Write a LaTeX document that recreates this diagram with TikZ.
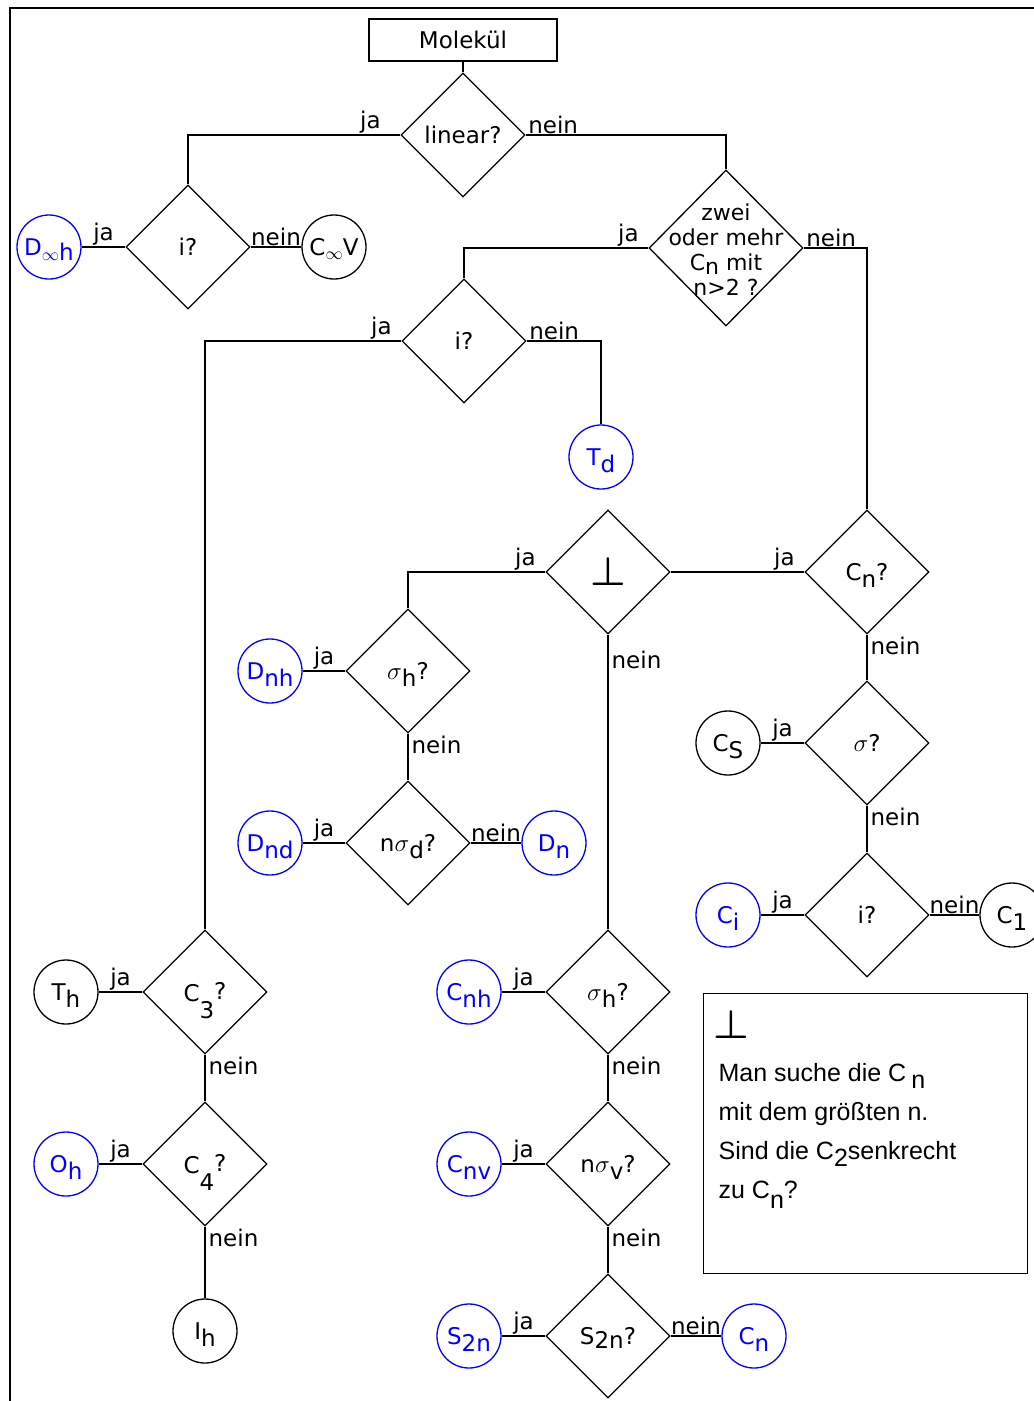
\documentclass[tikz,border=0pt]{standalone}
\usepackage{fontspec}
\usepackage{graphicx}
\setmainfont{DejaVu Sans}
\newfontfamily\notefont{Liberation Sans}
\usetikzlibrary{shapes.geometric}
\definecolor{symblue}{RGB}{0,0,255}
\newcommand\lowr[1]{\raisebox{-7pt}[0pt][0pt]{#1}}
\newcommand\perpsym{\scalebox{4}{\fontsize{10}{10}\selectfont\boldmath$\perp$}}
\begin{document}
\begin{tikzpicture}[x=1pt,y=-1pt,line width=1.3pt,
  every node/.style={font=\fontsize{23}{25}\selectfont},
  dec/.style={draw,diamond,aspect=1,minimum width=124pt,minimum height=124pt,inner sep=0pt},
  res/.style={draw,circle,minimum size=64pt,inner sep=0pt},
  blu/.style={res,draw=symblue,text=symblue},
  jl/.style={anchor=south east,inner sep=1pt,xshift=-8pt},
  nr/.style={anchor=south west,inner sep=1pt,xshift=1pt},
  nb/.style={anchor=north west,inner sep=1pt,xshift=2pt,yshift=-1pt},
  ml/.style={above,inner sep=1pt},
  notetext/.style={anchor=base west,inner sep=0pt,font=\notefont\fontsize{25}{28}\selectfont}]
\useasboundingbox (0,0) rectangle (1034,1401);
\fill[white] (0,0) rectangle (1034,1401);
\draw[line width=2pt] (10,1401) -- (10,8) -- (1034,8);

% nodes
\node[draw,minimum width=188pt,minimum height=42pt,inner sep=0pt] (mol) at (463,40) {Molekül};
\node[dec] (lin) at (463,135) {linear?};
\node[dec] (i1) at (188,247) {i?};
\node[blu] (Dinfh) at (49,247) {D\raisebox{-5pt}[0pt][0pt]{{\fontsize{19}{19}\selectfont$\infty$}h}};
\node[res] (Cinfv) at (334,247) {C\raisebox{-4pt}[0pt][0pt]{\fontsize{19}{19}\selectfont$\infty$}V};
\node[dec,minimum width=154pt,minimum height=156pt] (zwei) at (726,248) {};
\node[align=center,inner sep=0pt,font=\fontsize{22}{25}\selectfont] (zweit) at (726,250) {zwei\\oder mehr\\C\raisebox{-4pt}[0pt][0pt]{n} mit\\n>2 ?};
\node[dec] (i2) at (464,341) {i?};
\node[blu] (Td) at (601,457) {T\lowr{d}};
\node[dec] (perp) at (608,572) {\perpsym};
\node[dec] (cn) at (867,572) {C\lowr{n}?};
\node[dec] (sh1) at (408,671) {$\sigma$\lowr{h}?};
\node[blu] (Dnh) at (270,671) {D\lowr{nh}};
\node[dec] (nsd) at (408,843) {n$\sigma$\lowr{d}?};
\node[blu] (Dnd) at (270,843) {D\lowr{nd}};
\node[blu] (Dn) at (554,843) {D\lowr{n}};
\node[dec] (sig) at (867,743) {$\sigma$?};
\node[res] (Cs) at (728,743) {C\lowr{S}};
\node[dec] (i3) at (867,915) {i?};
\node[blu] (Ci) at (728,915) {C\lowr{i}};
\node[res] (C1) at (1012,915) {C\lowr{1}};
\node[dec] (c3) at (205,992) {C\raisebox{-17pt}[0pt][0pt]{3}\raisebox{2pt}{?}};
\node[res] (Th) at (66,992) {T\lowr{h}};
\node[dec] (c4) at (205,1164) {C\raisebox{-17pt}[0pt][0pt]{4}\raisebox{2pt}{?}};
\node[blu] (Oh) at (66,1164) {O\lowr{h}};
\node[res] (Ih) at (205,1331) {I\lowr{h}};
\node[dec] (sh2) at (608,992) {$\sigma$\lowr{h}?};
\node[blu] (Cnh) at (469,992) {C\lowr{nh}};
\node[dec] (nsv) at (608,1164) {n$\sigma$\lowr{v}?};
\node[blu] (Cnv) at (469,1164) {C\lowr{nv}};
\node[dec] (s2n) at (608,1336) {S\raisebox{-4pt}[0pt][0pt]{2n}?};
\node[blu] (S2n) at (469,1336) {S\lowr{2n}};
\node[blu] (Cn) at (754,1336) {C\lowr{n}};

% note box
\node[draw,minimum width=324pt,minimum height=280pt,anchor=north west,inner sep=0pt] (note) at (703,993) {};
\node (notesym) at (731,1025) {\perpsym};
\node[notetext] (n1) at (718,1081) {Man suche die C\hspace{5pt}\lowr{n}};
\node[notetext] (n2) at (718,1120) {mit dem größten n.};
\node[notetext] (n3) at (718,1159) {Sind die C\lowr{2}senkrecht};
\node[notetext] (n4) at (718,1198) {zu C\raisebox{-10pt}[0pt][0pt]{n}?};

% connectors
\draw (mol.south) -- (lin.north);
\draw (lin.west) node[jl,xshift=-10pt]{ja} -| (i1.north);
\draw (lin.east) node[nr]{nein} -| (zwei.north);
\draw (i1.west) -- node[ml]{ja} (Dinfh.east);
\draw (i1.east) -- node[ml]{nein} (Cinfv.west);
\draw (zwei.west) node[jl]{ja} -| (i2.north);
\draw (zwei.east) node[nr]{nein} -| (cn.north);
\draw (i2.west) node[jl]{ja} -| (c3.north);
\draw (i2.east) node[nr]{nein} -| (Td.north);
\draw (cn.west) node[jl]{ja} -- (perp.east);
\draw (perp.west) node[jl]{ja} -| (sh1.north);
\draw (perp.south) node[nb,yshift=-14pt]{nein} -- (sh2.north);
\draw (cn.south) node[nb]{nein} -- (sig.north);
\draw (sig.west) -- node[ml]{ja} (Cs.east);
\draw (sig.south) node[nb]{nein} -- (i3.north);
\draw (i3.west) -- node[ml]{ja} (Ci.east);
\draw (i3.east) -- node[ml]{nein} (C1.west);
\draw (sh1.west) -- node[ml]{ja} (Dnh.east);
\draw (sh1.south) node[nb]{nein} -- (nsd.north);
\draw (nsd.west) -- node[ml]{ja} (Dnd.east);
\draw (nsd.east) -- node[ml]{nein} (Dn.west);
\draw (c3.west) -- node[ml]{ja} (Th.east);
\draw (c3.south) node[nb]{nein} -- (c4.north);
\draw (c4.west) -- node[ml]{ja} (Oh.east);
\draw (c4.south) node[nb]{nein} -- (Ih.north);
\draw (sh2.west) -- node[ml]{ja} (Cnh.east);
\draw (sh2.south) node[nb]{nein} -- (nsv.north);
\draw (nsv.west) -- node[ml]{ja} (Cnv.east);
\draw (nsv.south) node[nb]{nein} -- (s2n.north);
\draw (s2n.west) -- node[ml]{ja} (S2n.east);
\draw (s2n.east) -- node[ml]{nein} (Cn.west);
\end{tikzpicture}
\end{document}
